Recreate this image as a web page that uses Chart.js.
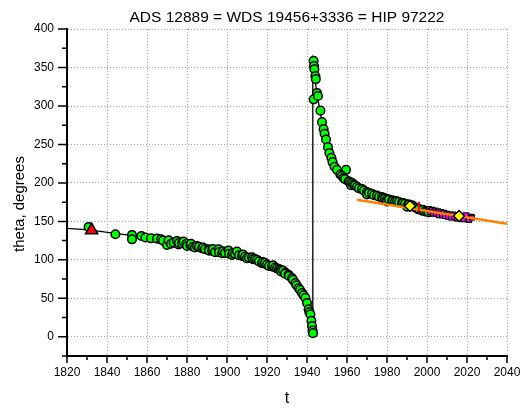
<!DOCTYPE html>
<html>
<head>
<meta charset="utf-8">
<script src="https://cdn.jsdelivr.net/npm/chart.js@4.4.1/dist/chart.umd.min.js"></script>
<style>
  html, body { margin: 0; padding: 0; background: #fff; }
  #wrap { width: 530px; height: 410px; }
</style>
</head>
<body>
<div id="wrap"><canvas id="orbitChart" width="530" height="410"></canvas></div>
<script>
// measured position angles (green circles)
const greenT = [1830.8, 1844.2, 1852.5, 1852.5, 1857.2, 1859.2, 1862.0, 1865.0, 1867.0, 1868.0,
  1870.0, 1870.8, 1872.0, 1873.3, 1875.0, 1875.8, 1876.0, 1877.5, 1878.3, 1879.7,
  1880.0, 1881.7, 1882.0, 1883.0, 1884.0, 1885.0, 1886.0, 1887.5, 1888.0, 1889.0,
  1890.8, 1891.0, 1892.5, 1893.0, 1894.0, 1895.8, 1896.0, 1897.5, 1898.0, 1899.0,
  1900.8, 1901.0, 1902.5, 1903.0, 1904.0, 1905.0, 1906.0, 1907.5, 1908.0, 1909.0,
  1910.0, 1911.0, 1912.5, 1913.0, 1914.0, 1915.0, 1916.0, 1917.5, 1918.0, 1919.0,
  1920.0, 1921.0, 1922.5, 1923.0, 1924.0, 1925.0, 1926.0, 1926.7, 1927.0, 1928.0,
  1929.2, 1929.0, 1930.8, 1931.0, 1932.5, 1933.0, 1934.2, 1934.8, 1935.8, 1936.5,
  1937.5, 1938.3, 1939.2, 1940.0, 1940.8, 1941.2, 1941.7, 1942.2, 1942.5, 1942.8,
  1943.0,
  1943.3, 1943.5, 1943.7, 1944.2, 1944.4, 1945.0, 1943.3, 1945.5, 1946.7, 1947.5,
  1948.3, 1948.8, 1949.5, 1950.5, 1951.2, 1952.2, 1952.8, 1953.8, 1955.0, 1959.5,
  1956.7, 1957.5, 1958.3, 1959.0, 1960.8, 1961.5, 1962.0, 1962.5, 1963.3, 1964.0,
  1965.0, 1966.0, 1967.5, 1968.5, 1970.0, 1970.0, 1971.0, 1972.5, 1973.5, 1975.0,
  1976.0, 1977.5, 1978.0, 1979.0, 1980.0, 1980.0, 1981.0, 1982.5, 1983.0, 1984.0,
  1985.0, 1986.0, 1987.5, 1988.0, 1989.0, 1990.0, 1990.5, 1991.0, 1992.5, 1993.0,
  1994.0, 1995.5, 1996.0, 1997.5, 1998.0, 1999.0, 2000.0, 2000.8];
const greenTheta = [142.8, 133.3, 132.4, 126.7, 131.0, 129.0, 128.0, 127.6, 126.7, 125.0,
  119.3, 125.4, 121.0, 122.4, 124.6, 120.0, 122.0, 121.6, 123.7, 121.0,
  118.0, 119.4, 121.0, 117.0, 116.0, 118.0, 117.0, 115.0, 116.0, 114.0,
  113.8, 112.0, 112.0, 114.0, 110.0, 113.8, 110.0, 108.6, 111.0, 109.0,
  112.0, 108.0, 106.5, 109.0, 108.0, 110.8, 106.0, 105.2, 107.0, 104.0,
  102.0, 103.0, 103.4, 101.0, 101.0, 100.0, 98.0, 95.7, 97.0, 96.0,
  93.5, 92.0, 91.4, 93.0, 90.0, 89.0, 88.0, 87.0, 85.0, 86.0,
  83.6, 82.0, 80.6, 79.0, 76.3, 74.0, 69.8, 67.0, 63.4, 61.0,
  57.0, 54.0, 50.6, 44.0, 35.8, 32.0, 29.3, 20.7, 14.0, 8.0,
  4.7,
  358.7, 352.0, 347.8, 339.0, 335.0, 317.0, 308.7, 313.0, 294.0, 279.0,
  270.0, 264.0, 256.5, 246.5, 239.0, 232.6, 227.0, 221.0, 217.0, 217.0,
  211.0, 209.0, 206.5, 205.0, 202.0, 201.0, 197.0, 200.0, 198.0, 197.0,
  195.0, 193.0, 192.0, 190.0, 188.0, 185.0, 187.0, 186.0, 184.0, 183.5,
  182.0, 181.5, 180.0, 180.0, 179.0, 176.0, 178.5, 177.0, 177.0, 176.0,
  176.0, 175.0, 174.0, 174.0, 173.0, 169.0, 172.0, 172.0, 171.0, 170.0,
  168.0, 166.0, 166.0, 164.0, 165.0, 163.0, 163.0, 162.0];

// recent measurements (magenta)
const magentaT = [2001.0, 2001.8, 2002.5, 2003.2, 2004.0, 2004.7, 2005.5, 2006.2, 2007.0, 2007.8,
  2008.5, 2009.2, 2010.0, 2010.7, 2011.5, 2012.2, 2013.0, 2013.8, 2014.5, 2015.2,
  2016.0, 2016.8, 2017.5, 2018.2, 2019.0, 2019.8, 2020.5, 2021.2, 2022.0,
  2001.5, 2003.0, 2004.5, 2006.0, 2007.5, 2009.0, 2010.5, 2012.0, 2013.5, 2015.0,
  2016.5, 2018.0, 2019.5, 2021.0, 2022.5];
const magentaTheta = [166, 163, 165, 162, 164, 161, 163, 160, 162, 159,
  161, 158, 160, 158, 159, 157, 159, 156, 158, 155,
  158, 155, 157, 154, 157, 153, 156, 154, 156,
  162, 160, 160, 158, 158, 157, 156, 155, 155, 154,
  154, 153, 158, 152, 155];

// orbit model
const orbitT = [1820, 1831, 1845, 1860, 1875, 1890, 1905, 1915, 1922, 1928,
  1933, 1936, 1938.5, 1940.5, 1941.8, 1942.5, 1942.9, 1942.9, 1943.3, 1944,
  1945, 1946.5, 1948, 1950, 1952, 1955, 1958, 1962, 1966, 1970,
  1975, 1980, 1985, 1990, 1995, 2000, 2005, 2010, 2015, 2022];
const orbitTheta = [141, 139, 134, 129, 123, 115, 107, 100, 93, 85,
  75, 65, 55, 40, 25, 12, 2, 360, 355, 335,
  315, 294, 273, 252, 235, 219, 208, 199, 192, 187,
  183, 179, 176, 172, 168, 165, 162, 160, 158, 155];

const firstT = [1832.3];
const firstTheta = [138.5];
const yellowT = [1991.5, 2016.0];
const yellowTheta = [170, 157];
const redT = [1996.0];
const redTheta = [169];
const trendT = [1965, 2040];
const trendTheta = [178, 147];

const xMajor = 20;
const yMajor = 50;

function toPoints(xs, ys) {
  return xs.map((v, i) => ({ x: v, y: ys[i] }));
}

const tickMarks = {
  id: 'tickMarks',
  afterDraw(chart) {
    const { ctx, chartArea } = chart;
    const x = chart.scales.x;
    const y = chart.scales.y;
    ctx.save();
    ctx.strokeStyle = '#000';
    ctx.lineWidth = 1.5;
    ctx.beginPath();
    x.ticks.forEach(t => {
      const px = x.getPixelForValue(t.value);
      const len = t.value % xMajor === 0 ? 7 : 4;
      ctx.moveTo(px, chartArea.bottom);
      ctx.lineTo(px, chartArea.bottom + len);
    });
    y.ticks.forEach(t => {
      const py = y.getPixelForValue(t.value);
      const len = t.value % yMajor === 0 ? 9 : 5;
      ctx.moveTo(chartArea.left, py);
      ctx.lineTo(chartArea.left - len, py);
    });
    ctx.stroke();

    // y axis title
    ctx.translate(20, 204);
    ctx.rotate(-Math.PI / 2);
    ctx.fillStyle = '#000';
    ctx.font = '15px "Liberation Sans", Arial, sans-serif';
    ctx.textAlign = 'center';
    ctx.textBaseline = 'middle';
    ctx.fillText('theta, degrees', 0, 0);
    ctx.restore();
  }
};

const ctx = document.getElementById('orbitChart');
new Chart(ctx, {
  type: 'scatter',
  data: {
    datasets: [
      {
        data: toPoints(firstT, firstTheta),
        pointStyle: 'triangle',
        pointRadius: 7,
        backgroundColor: '#ff0000',
        borderColor: '#000',
        borderWidth: 1.5
      },
      {
        data: toPoints(yellowT, yellowTheta),
        pointStyle: 'rectRot',
        pointRadius: 5.5,
        backgroundColor: '#ffff00',
        borderColor: '#000',
        borderWidth: 1.5
      },
      {
        data: toPoints(redT, redTheta),
        pointStyle: 'line',
        rotation: 90,
        pointRadius: 5,
        borderColor: '#ff0000',
        borderWidth: 2
      },
      {
        data: toPoints(trendT, trendTheta),
        showLine: true,
        pointRadius: 0,
        borderColor: '#ff8000',
        borderWidth: 2.5
      },
      {
        data: toPoints(magentaT, magentaTheta),
        pointStyle: 'rect',
        pointRadius: 3.5,
        backgroundColor: '#ff00ff',
        borderColor: '#000',
        borderWidth: 1.2
      },
      {
        data: toPoints(greenT, greenTheta),
        pointRadius: 4.3,
        backgroundColor: '#00ff00',
        borderColor: '#000',
        borderWidth: 1.5
      },
      {
        data: toPoints(orbitT, orbitTheta),
        showLine: true,
        pointRadius: 0,
        borderColor: '#000',
        borderWidth: 1.3
      }
    ]
  },
  options: {
    responsive: false,
    animation: false,
    devicePixelRatio: 1,
    layout: { padding: { left: 0, right: 23, top: 0, bottom: 0 } },
    plugins: {
      legend: { display: false },
      tooltip: { enabled: false },
      title: {
        display: true,
        text: 'ADS 12889 = WDS 19456+3336 = HIP 97222',
        fullSize: false,
        color: '#000',
        font: { family: '"Liberation Sans", Arial, sans-serif', size: 15.5, weight: 'normal' },
        padding: { top: 8, bottom: 2.5 }
      }
    },
    scales: {
      x: {
        type: 'linear',
        min: 1820,
        max: 2040,
        afterFit: s => { s.height = 54; },
        ticks: {
          stepSize: 10,
          autoSkip: false,
          maxRotation: 0,
          padding: 9,
          color: '#000',
          font: { family: '"Liberation Sans", Arial, sans-serif', size: 12 },
          callback: v => (v % xMajor === 0 ? String(v) : '')
        },
        grid: {
          drawTicks: false,
          color: c => (c.tick && c.tick.value % xMajor === 0 ? '#a0a0a0' : 'rgba(0,0,0,0)'),
          lineWidth: 1
        },
        border: { display: true, color: '#000', width: 2, dash: [1, 2] },
        title: {
          display: true,
          text: 't',
          color: '#000',
          font: { family: '"Liberation Sans", Arial, sans-serif', size: 16 },
          padding: { top: 0, bottom: 2 }
        }
      },
      y: {
        type: 'linear',
        min: -25,
        max: 400,
        afterFit: s => { s.width = 67; },
        ticks: {
          stepSize: 25,
          autoSkip: false,
          padding: 13,
          color: '#000',
          font: { family: '"Liberation Sans", Arial, sans-serif', size: 12 },
          callback: v => (v % yMajor === 0 ? String(v) : '')
        },
        grid: {
          drawTicks: false,
          color: c => (c.tick && c.tick.value % yMajor === 0 ? '#a0a0a0' : 'rgba(0,0,0,0)'),
          lineWidth: 1
        },
        border: { display: true, color: '#000', width: 2, dash: [1, 2] }
      }
    }
  },
  plugins: [tickMarks]
});
</script>
</body>
</html>
